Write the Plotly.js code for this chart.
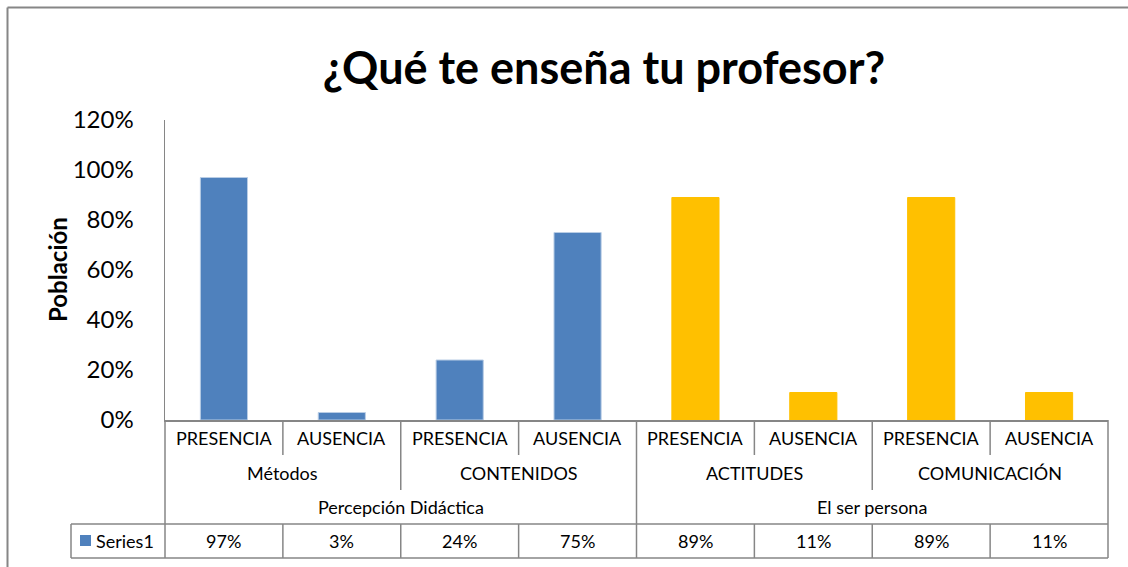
<!DOCTYPE html>
<html>
<head>
<meta charset="utf-8">
<script src="https://cdn.plot.ly/plotly-3.0.1.min.js"></script>
<style>html,body{margin:0;padding:0;background:#fff;overflow:hidden;}#chart{width:1128px;height:567px;}</style>
</head>
<body>
<div id="chart"></div>
<script>
// ---- data ----
const subCategories = ["PRESENCIA","AUSENCIA","PRESENCIA","AUSENCIA","PRESENCIA","AUSENCIA","PRESENCIA","AUSENCIA"];
const midCategories = ["Métodos","CONTENIDOS","ACTITUDES","COMUNICACIÓN"];
const topCategories = ["Percepción Didáctica","El ser persona"];
const seriesName = "Series1";
const values = [0.97, 0.03, 0.24, 0.75, 0.89, 0.11, 0.89, 0.11];
const yTicks = [0, 0.2, 0.4, 0.6, 0.8, 1.0, 1.2];
const titleText = "¿Qué te enseña tu profesor?";
const yTitle = "Población";

// ---- layout constants ----
const W = 1128, H = 567;
const L = 165, R = 1108, T = 120, B = 420;
const pw = R - L, ph = B - T;
const px = x => (x - L) / pw;         // pixel -> paper x
const py = y => (B - y) / ph;         // pixel -> paper y
const n = values.length;
const FONT = "Lato, 'Open Sans', sans-serif";
const GRID = "#868686";
const groupColors = ["#4F81BD", "#FFC000"];
const perTop = n / topCategories.length;
const perMid = n / midCategories.length;

const xs = values.map((v, i) => i);
const colors = values.map((v, i) => groupColors[Math.floor(i / perTop)]);
const lineColors = values.map((v, i) => Math.floor(i / perTop) === 0 ? "#b9cde5" : "#FFC000");

const rowTop = [420, 455, 490, 524, 558];
const shapes = [];
const line = (x0, y0, x1, y1, w) => shapes.push({type: "line", xref: "paper", yref: "paper",
  x0: x0, y0: y0, x1: x1, y1: y1, line: {color: GRID, width: w || 1.5}});
const edge = k => k / n; // paper x of boundary before category k

// outer chart border: only top and left sides are inside the picture
line(px(7.5), py(7.5), px(W + 20), py(7.5), 2);
line(px(7.5), py(7.5), px(7.5), py(H + 20), 2);

// category box
for (let k = 0; k <= n; k++) {
  let bottom;
  if (k === 0 || k === n || k % perTop === 0) bottom = rowTop[3];
  else if (k % perMid === 0) bottom = rowTop[2];
  else bottom = rowTop[1];
  line(edge(k), py(rowTop[0]), edge(k), py(bottom));
  // data table verticals
  line(edge(k), py(rowTop[3]), edge(k), py(rowTop[4]));
}
// data table
line(px(71), py(rowTop[3]), edge(n), py(rowTop[3]));
line(px(71), py(rowTop[4]), edge(n), py(rowTop[4]));
line(px(71), py(rowTop[3]), px(71), py(rowTop[4]));
// legend key
shapes.push({type: "rect", xref: "paper", yref: "paper", x0: px(80), x1: px(91), y0: py(535), y1: py(546),
  line: {width: 0}, fillcolor: groupColors[0]});

const mid = (a, b) => py((a + b) / 2);
const annotations = [];
const ann = (x, xref, y, text, size, extra) => annotations.push(Object.assign({
  x: x, xref: xref, y: y, yref: "paper", text: text, showarrow: false,
  xanchor: "center", yanchor: "middle", font: {family: FONT, size: size, color: "#000"}}, extra || {}));

subCategories.forEach((c, i) => ann(i, "x", mid(rowTop[0], rowTop[1]), c, 18));
midCategories.forEach((c, g) => ann(g * perMid + (perMid - 1) / 2, "x", mid(rowTop[1], rowTop[2]), c, 18));
topCategories.forEach((c, g) => ann(g * perTop + (perTop - 1) / 2, "x", mid(rowTop[2], rowTop[3]), c, 18));
values.forEach((v, i) => ann(i, "x", mid(rowTop[3], rowTop[4]), Math.round(v * 100) + "%", 18));
ann(px(94), "paper", mid(rowTop[3], rowTop[4]), seriesName, 18, {xanchor: "left"});
// y-axis title
ann(px(57), "paper", py(270), "<b>" + yTitle + "</b>", 24, {textangle: -90});

const data = [{
  type: "bar", x: xs, y: values, name: seriesName,
  marker: {color: colors, line: {color: lineColors, width: 1}},
  hoverinfo: "none"
}];

const layout = {
  width: W, height: H,
  margin: {l: L, r: W - R, t: T, b: H - B, pad: 0},
  paper_bgcolor: "#fff", plot_bgcolor: "#fff",
  showlegend: false,
  bargap: 0.6,
  title: {text: "<b>" + titleText + "</b>", x: px(604), xref: "paper", xanchor: "center",
    y: 1 - 68 / H, yref: "container", yanchor: "middle",
    font: {family: FONT, size: 45, color: "#000"}},
  xaxis: {range: [-0.5, n - 0.5], showticklabels: false, showgrid: false, zeroline: false,
    showline: true, linecolor: GRID, linewidth: 1.5, ticks: "", fixedrange: true},
  yaxis: {range: [0, 1.2], tickvals: yTicks, tickformat: ".0%", showgrid: false, zeroline: false,
    showline: true, linecolor: GRID, linewidth: 1.5, ticks: "", ticklabelstandoff: 25,
    tickfont: {family: FONT, size: 24, color: "#000"},
    fixedrange: true},
  shapes: shapes,
  annotations: annotations
};

Plotly.newPlot("chart", data, layout, {displayModeBar: false, staticPlot: true});
</script>
</body>
</html>
